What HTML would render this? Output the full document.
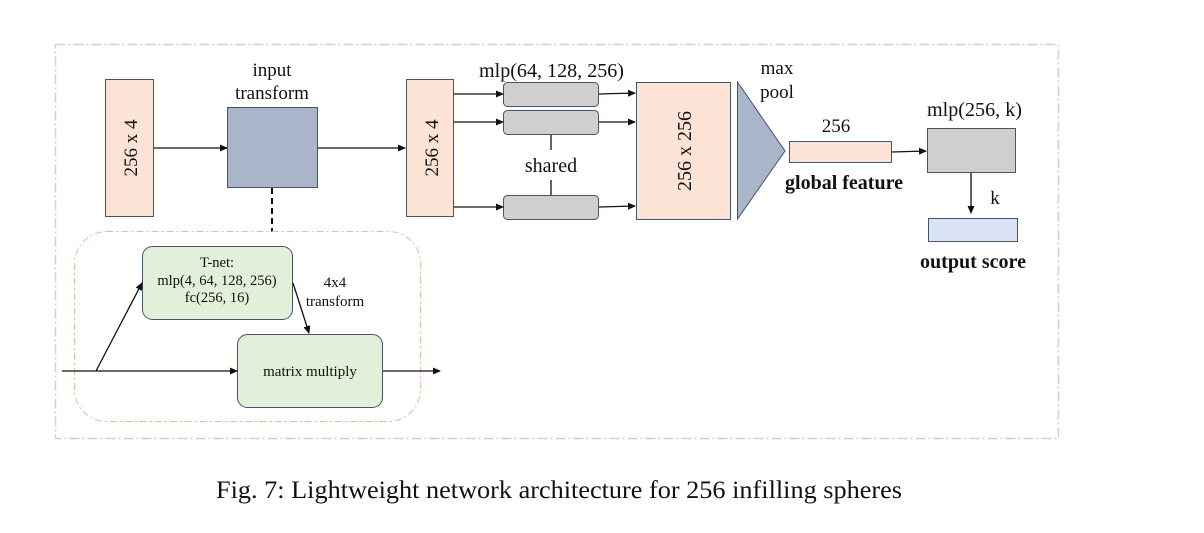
<!DOCTYPE html>
<html><head><meta charset="utf-8"><style>
html,body{margin:0;padding:0;background:#fff;}
svg{display:block;}
text{font-family:"Liberation Serif",serif;fill:#111;}
</style></head><body>
<svg width="1204" height="533" viewBox="0 0 1204 533" xmlns="http://www.w3.org/2000/svg">
<defs>
<marker id="a" markerWidth="8" markerHeight="8" refX="7" refY="4" orient="auto" markerUnits="userSpaceOnUse"><path d="M0,0.5 L8,4 L0,7.5 Z" fill="#111"/></marker>
</defs>
<rect x="55.5" y="44.5" width="1003" height="394" fill="none" stroke="#d0d0d0" stroke-width="1.5" stroke-dasharray="10,3,2,3"/>
<rect x="105.5" y="79.5" width="48" height="137" fill="#fbe3d6" stroke="#44546a"/>
<text transform="translate(137,148) rotate(-90)" text-anchor="middle" font-size="19">256 x 4</text>
<line x1="154" y1="148" x2="227" y2="148" stroke="#111" stroke-width="1.3" marker-end="url(#a)"/>
<rect x="227.5" y="107.5" width="90" height="80" fill="#a9b5c8" stroke="#44546a"/>
<text x="272" y="76" text-anchor="middle" font-size="19">input</text>
<text x="272" y="99" text-anchor="middle" font-size="19">transform</text>
<line x1="318" y1="148" x2="405" y2="148" stroke="#111" stroke-width="1.3" marker-end="url(#a)"/>
<line x1="272" y1="188" x2="272" y2="232" stroke="#111" stroke-width="2" stroke-dasharray="6,4"/>
<rect x="406.5" y="79.5" width="47" height="137" fill="#fbe3d6" stroke="#44546a"/>
<text transform="translate(438,148) rotate(-90)" text-anchor="middle" font-size="19">256 x 4</text>
<text x="479" y="77" font-size="20" textLength="145" lengthAdjust="spacingAndGlyphs">mlp(64, 128, 256)</text>
<rect x="503.5" y="82.5" width="95" height="24" rx="4" fill="#d0cece" stroke="#44546a"/>
<rect x="503.5" y="110.5" width="95" height="24" rx="4" fill="#d0cece" stroke="#44546a"/>
<rect x="503.5" y="195.5" width="95" height="24" rx="4" fill="#d0cece" stroke="#44546a"/>
<line x1="454" y1="94" x2="503" y2="94" stroke="#111" stroke-width="1.3" marker-end="url(#a)"/>
<line x1="454" y1="122" x2="503" y2="122" stroke="#111" stroke-width="1.3" marker-end="url(#a)"/>
<line x1="454" y1="207" x2="503" y2="207" stroke="#111" stroke-width="1.3" marker-end="url(#a)"/>
<line x1="599" y1="94" x2="635" y2="93" stroke="#111" stroke-width="1.3" marker-end="url(#a)"/>
<line x1="599" y1="122" x2="635" y2="122" stroke="#111" stroke-width="1.3" marker-end="url(#a)"/>
<line x1="599" y1="207" x2="635" y2="206" stroke="#111" stroke-width="1.3" marker-end="url(#a)"/>
<line x1="551" y1="135" x2="551" y2="150" stroke="#111" stroke-width="1.3"/>
<line x1="551" y1="180" x2="551" y2="195" stroke="#111" stroke-width="1.3"/>
<text x="551" y="172" text-anchor="middle" font-size="20">shared</text>
<rect x="636.5" y="82.5" width="94" height="137" fill="#fbe3d6" stroke="#44546a"/>
<text transform="translate(691,151) rotate(-90)" text-anchor="middle" font-size="20">256 x 256</text>
<polygon points="737.5,82 737.5,219 785,151" fill="#a9b5c8" stroke="#44546a"/>
<text x="777" y="74" text-anchor="middle" font-size="19">max</text>
<text x="777" y="98" text-anchor="middle" font-size="19">pool</text>
<text x="836" y="132" text-anchor="middle" font-size="19">256</text>
<rect x="789.5" y="141.5" width="102" height="21" fill="#fbe3d6" stroke="#44546a"/>
<text x="785" y="189" font-size="20" font-weight="bold" textLength="118" lengthAdjust="spacingAndGlyphs">global feature</text>
<line x1="892" y1="152" x2="926" y2="151" stroke="#111" stroke-width="1.3" marker-end="url(#a)"/>
<text x="927" y="116" font-size="20" textLength="95" lengthAdjust="spacingAndGlyphs">mlp(256, k)</text>
<rect x="927.5" y="128.5" width="88" height="44" fill="#d0cece" stroke="#44546a"/>
<line x1="971" y1="173" x2="971" y2="213" stroke="#111" stroke-width="1.3" marker-end="url(#a)"/>
<text x="995" y="204" text-anchor="middle" font-size="19">k</text>
<rect x="928.5" y="218.5" width="89" height="23" fill="#dae3f3" stroke="#44546a"/>
<text x="920" y="268" font-size="20" font-weight="bold" textLength="106" lengthAdjust="spacingAndGlyphs">output score</text>
<rect x="74.5" y="231.5" width="346" height="190" rx="32" fill="none" stroke="#f0b89a" stroke-width="1" stroke-dasharray="7,3,2,3"/>
<rect x="142.5" y="246.5" width="150" height="73" rx="10" fill="#e2efd9" stroke="#44546a"/>
<text x="217" y="267" text-anchor="middle" font-size="14.5">T-net:</text>
<text x="217" y="285" text-anchor="middle" font-size="14.5">mlp(4, 64, 128, 256)</text>
<text x="217" y="302" text-anchor="middle" font-size="14.5">fc(256, 16)</text>
<rect x="237.5" y="334.5" width="145" height="73" rx="10" fill="#e2efd9" stroke="#44546a"/>
<text x="310" y="376" text-anchor="middle" font-size="15">matrix multiply</text>
<text x="335" y="287" text-anchor="middle" font-size="15">4x4</text>
<text x="335" y="306" text-anchor="middle" font-size="15">transform</text>
<line x1="62" y1="371" x2="237" y2="371" stroke="#111" stroke-width="1.3" marker-end="url(#a)"/>
<line x1="96" y1="371" x2="142" y2="283" stroke="#111" stroke-width="1.3" marker-end="url(#a)"/>
<line x1="293" y1="283" x2="309" y2="333" stroke="#111" stroke-width="1.3" marker-end="url(#a)"/>
<line x1="383" y1="371" x2="440" y2="371" stroke="#111" stroke-width="1.3" marker-end="url(#a)"/>
<text x="216" y="498" font-size="25" textLength="686" lengthAdjust="spacingAndGlyphs">Fig. 7: Lightweight network architecture for 256 infilling spheres</text>
</svg>
</body></html>
